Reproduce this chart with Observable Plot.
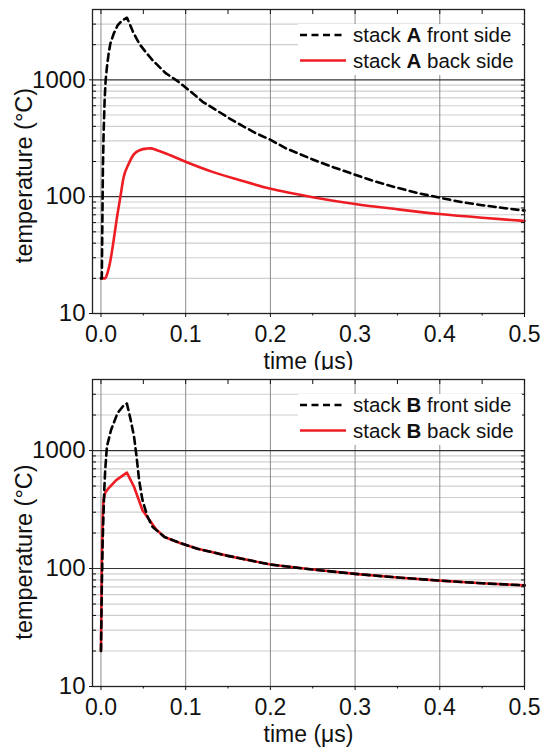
<!DOCTYPE html>
<html><head><meta charset="utf-8">
<script src="https://cdn.jsdelivr.net/npm/d3@7"></script>
<script src="https://cdn.jsdelivr.net/npm/@observablehq/plot@0.6"></script>
<style>
body{margin:0;background:#fff;}
.panel{position:relative;width:542px;}
svg{display:block;}
</style></head><body><div id="chart"></div>
<script>
// ---- tick values ----
const xMajor = [0, 0.1, 0.2, 0.3, 0.4, 0.5];
const xMinor = [0.05, 0.15, 0.25, 0.35, 0.45];
const xGrid = [0, 0.1, 0.2, 0.3, 0.4];
const yMajor = [10, 100, 1000];
const yMinor = [20, 30, 40, 50, 60, 70, 80, 90, 200, 300, 400, 500, 600, 700, 800, 900, 2000, 3000];

// ---- stack A, front side (black dashed) ----
const tAFront = [0, 0.001, 0.0015, 0.0023, 0.0031, 0.0043, 0.0055, 0.007, 0.009, 0.011, 0.015, 0.0196, 0.0248, 0.0307,
  0.034, 0.038, 0.042, 0.046, 0.052, 0.0604, 0.0763, 0.09, 0.1059, 0.1197, 0.1356, 0.1514, 0.1671, 0.183, 0.1988, 0.2186, 0.25, 0.275, 0.3, 0.325, 0.35, 0.375, 0.4, 0.425, 0.45, 0.475, 0.5];
const vAFront = [20, 20, 48, 178, 344, 665, 986, 1282, 1670, 2030, 2480, 2920, 3220, 3400,
  3000, 2560, 2250, 2000, 1760, 1485, 1142, 980, 794, 652, 553, 469, 403, 349, 310, 259, 208, 178, 154, 134, 119, 107, 98, 90, 84.5, 80, 76];

// ---- stack A, back side (red) ----
const tABack = [0, 0.005, 0.0078, 0.011, 0.0149, 0.0189, 0.0228, 0.0267, 0.0326, 0.0385, 0.0464, 0.0543, 0.0584, 0.0661, 0.0743, 0.0819, 0.1, 0.1316, 0.1632, 0.199, 0.2225,
  0.25, 0.3, 0.35, 0.4, 0.45, 0.5];
const vABack = [20, 20, 22.4, 28, 42, 66.5, 98.6, 146, 190, 229, 251, 258, 259, 250, 238, 226, 199, 163, 139, 117.5, 108,
  99, 86.5, 78, 71, 66, 62];

// ---- stack B, front side (black dashed) ----
const tBFront = [0, 0.001, 0.002, 0.003, 0.004, 0.005, 0.007, 0.012, 0.0196, 0.0275, 0.0306, 0.035, 0.039, 0.042, 0.045, 0.049, 0.055, 0.061, 0.075, 0.094, 0.114,
  0.15, 0.2, 0.25, 0.3, 0.35, 0.4, 0.45, 0.5];
const vBFront = [20, 70, 170, 292, 480, 685, 1080, 1500, 2080, 2450, 2500, 1830, 1318, 890, 562, 380, 274, 225, 185, 164, 147,
  128, 108, 98, 90, 84, 79, 75, 72];

// ---- stack B, back side (red) ----
const tBBack = [0, 0.001, 0.002, 0.003, 0.005, 0.008, 0.018, 0.0306, 0.039, 0.049, 0.059, 0.065, 0.075, 0.094, 0.114,
  0.15, 0.2, 0.25, 0.3, 0.35, 0.4, 0.45, 0.5];
const vBBack = [20, 110, 260, 380, 440, 470, 562, 650, 493, 312, 248, 215, 185, 164, 147,
  128, 108, 98, 90, 84, 79, 75, 72];

const legendLetters = ["A", "B"];
const xLabel = "time (μs)";
const yLabel = "temperature (°C)";

const RED = "#ee1d23";
const FONT = "'Liberation Sans', Arial, sans-serif";
const zip = (t, v) => t.map((d, i) => ({t: d, v: v[i]}));

function panel(front, back, letter, height, marginBottom, yLabelDy, curveBack) {
  const wrap = document.createElement("div");
  wrap.className = "panel";
  wrap.style.height = height + "px";
  const svg = Plot.plot({
    width: 542, height,
    marginLeft: 92, marginRight: 18, marginTop: 9, marginBottom,
    style: {fontFamily: FONT, fontSize: "23px", color: "#111", background: "#fff", overflow: "visible"},
    x: {type: "linear", domain: [-0.01, 0.5], label: null, axis: null},
    y: {type: "log", domain: [10, 4000], label: null, axis: null},
    marks: [
      Plot.ruleY(yMinor, {stroke: "#cfcfcf", strokeWidth: 1.2}),
      Plot.ruleX(xGrid, {stroke: "#8c8c8c", strokeWidth: 1}),
      Plot.ruleY([100, 1000], {stroke: "#333", strokeWidth: 1.2}),
      Plot.line(back, {x: "t", y: "v", stroke: RED, strokeWidth: 2.6, curve: curveBack}),
      Plot.line(front, {x: "t", y: "v", stroke: "#000", strokeWidth: 2.6, strokeDasharray: "7,4.5"}),
      Plot.frame({stroke: "#222", strokeWidth: 1.3}),
      Plot.axisX({ticks: xMajor, anchor: "bottom", tickSize: 4, tickPadding: 8, tickFormat: d3.format(".1f"), fontSize: 23, label: null}),
      Plot.axisX({ticks: xMinor, anchor: "bottom", tickSize: 2.5, tickFormat: () => "", label: null}),
      Plot.axisX({ticks: [...xMajor, ...xMinor], anchor: "top", tickSize: -4, tickFormat: () => "", label: null}),
      Plot.axisY({ticks: yMajor, anchor: "left", tickSize: 3, tickPadding: 4, tickFormat: d3.format("d"), fontSize: 24, label: null}),
      Plot.axisY({ticks: yMinor, anchor: "left", tickSize: -4, tickFormat: () => "", label: null}),
      Plot.axisY({ticks: [...yMajor, ...yMinor], anchor: "right", tickSize: -4, tickFormat: () => "", label: null}),
      Plot.text([xLabel], {text: d => d, frameAnchor: "bottom", textAnchor: "middle", dy: 55, lineAnchor: "bottom", fontSize: 23}),
      Plot.text([yLabel], {text: d => d, frameAnchor: "left", textAnchor: "middle", rotate: -90, dx: -68, dy: yLabelDy, lineAnchor: "middle", fontSize: 23.5})
    ]
  });
  wrap.appendChild(svg);
  // legend overlay
  const g = d3.select(svg).append("g").attr("font-family", FONT).attr("font-size", 20.5).attr("fill", "#111").attr("text-anchor", "start");
  g.append("rect").attr("x", 298).attr("y", 24).attr("width", 224).attr("height", 51).attr("fill", "#fff");
  g.append("line").attr("x1", 300).attr("x2", 346).attr("y1", 35).attr("y2", 35)
    .attr("stroke", "#000").attr("stroke-width", 2.6).attr("stroke-dasharray", "7,4.5");
  g.append("line").attr("x1", 300).attr("x2", 346).attr("y1", 60.5).attr("y2", 60.5)
    .attr("stroke", RED).attr("stroke-width", 2.6);
  const rows = [["front side", 42], ["back side", 67.5]];
  for (const [s, y] of rows) {
    const t = g.append("text").attr("x", 353).attr("y", y).attr("text-anchor", "start");
    t.append("tspan").text("stack ");
    t.append("tspan").attr("font-weight", "bold").text(letter);
    t.append("tspan").text(" " + s);
  }
  return wrap;
}

const root = document.getElementById("chart");
root.appendChild(panel(zip(tAFront, vAFront), zip(tABack, vABack), legendLetters[0], 370, 57, 14, "monotone-x"));
root.appendChild(panel(zip(tBFront, vBFront), zip(tBBack, vBBack), legendLetters[1], 379, 63, 19, "linear"));
</script>
</body></html>
